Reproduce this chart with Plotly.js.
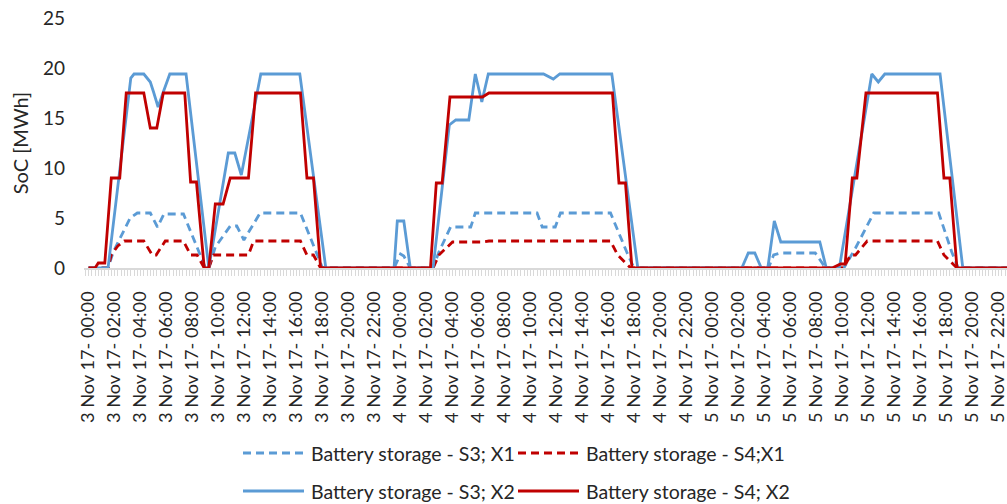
<!DOCTYPE html>
<html>
<head>
<meta charset="utf-8">
<script src="https://cdn.plot.ly/plotly-3.0.1.min.js"></script>
<style>html,body{margin:0;padding:0;background:#fff;overflow:hidden}#chart{width:1015px;height:504px}</style>
</head>
<body>
<div id="chart"></div>
<script>
// x values are hours since 3 Nov 17 00:00 (15-minute data, vertices)
const days = ['3 Nov 17', '4 Nov 17', '5 Nov 17'];
const tickHours = [0, 2, 4, 6, 8, 10, 12, 14, 16, 18, 20, 22];

const s3x1_t = [0, 1.5, 1.9, 3.2, 3.75, 4.75, 5.3, 5.8, 7.3, 8.6, 9, 9.25, 9.75, 10.9, 11.4, 11.95, 13.2, 16.3, 17.7, 18, 23.5, 24, 24.25, 24.75, 26.5, 26.95, 27.85, 29.4, 29.75, 34.5, 34.9, 35.9, 36.3, 40.15, 41.4, 41.95, 52.3, 52.7, 53.2, 55.9, 56.7, 58.1, 59, 60.4, 65.4, 66.4, 66.9, 71.75];
const s3x1_v = [0, 0, 1.6, 5, 5.5, 5.5, 4.1, 5.4, 5.4, 1.3, 0, 0, 2.1, 4.2, 4.2, 2.8, 5.5, 5.5, 1, 0, 0, 1.4, 1.2, 0, 0, 1.6, 4.1, 4.1, 5.5, 5.5, 4.1, 4.1, 5.5, 5.5, 1.6, 0, 0, 1.3, 1.5, 1.5, 0, 0, 2, 5.5, 5.5, 1.6, 0, 0];

const s4x1_t = [0, 1.5, 1.75, 2.25, 2.75, 4.25, 4.9, 5.2, 5.9, 7.3, 7.85, 8.35, 8.9, 9.25, 9.6, 12.3, 12.7, 16.3, 16.8, 17.3, 17.85, 26.5, 26.95, 28, 30.3, 30.8, 40.15, 40.7, 41.7, 58.1, 58.6, 59, 59.9, 65.3, 65.8, 66.8, 71.75];
const s4x1_v = [0, 0, 1.3, 2.2, 2.7, 2.7, 1.3, 1.3, 2.7, 2.7, 1.3, 1.3, 0, 0, 1.3, 1.3, 2.7, 2.7, 1.3, 1.3, 0, 0, 1.3, 2.6, 2.6, 2.7, 2.7, 1.3, 0, 0, 1.3, 1.3, 2.7, 2.7, 1.3, 0, 0];

const s3x2_t = [0, 1.5, 3.25, 3.5, 4.25, 4.75, 5, 5.35, 5.75, 6.25, 7.5, 9.25, 10.75, 11.25, 11.75, 13.25, 16.25, 18.25, 23.5, 23.75, 24.25, 24.75, 26.5, 27.75, 28.25, 29.25, 29.75, 30.25, 30.75, 35, 35.75, 36.25, 40.25, 42.25, 50.25, 50.75, 51.25, 51.75, 52.25, 52.75, 53.25, 56.25, 56.75, 57.75, 60.25, 60.75, 61.25, 65.5, 67.25, 71.75];
const s3x2_v = [0, 0, 19, 19.4, 19.4, 18.6, 17.6, 16.1, 17.6, 19.4, 19.4, 0, 11.5, 11.5, 9.3, 19.4, 19.4, 0, 0, 4.7, 4.7, 0, 0, 14.3, 14.8, 14.8, 19.4, 16.6, 19.4, 19.4, 18.9, 19.4, 19.4, 0, 0, 1.5, 1.5, 0, 0, 4.7, 2.6, 2.6, 0, 0, 19.4, 18.6, 19.4, 19.4, 0, 0];

const s4x2_t = [0, 0.5, 0.75, 1.25, 1.75, 2.4, 2.9, 4.25, 4.75, 5.25, 5.75, 7.4, 7.85, 8.3, 8.9, 9.25, 9.75, 10.35, 10.9, 12.3, 12.85, 16.3, 16.8, 17.3, 17.85, 26.3, 26.75, 27.2, 27.8, 30.3, 30.8, 40.3, 40.8, 41.3, 41.8, 57.2, 57.85, 58.2, 58.75, 59.1, 59.8, 65.3, 65.8, 66.25, 66.8, 71.75];
const s4x2_v = [0, 0, 0.5, 0.5, 9, 9, 17.5, 17.5, 14, 14, 17.5, 17.5, 8.6, 8.6, 0, 0, 6.4, 6.4, 9, 9, 17.5, 17.5, 9, 9, 0, 0, 8.5, 8.5, 17.1, 17.1, 17.5, 17.5, 8.5, 8.5, 0, 0, 0.4, 0.4, 9, 9, 17.5, 17.5, 9, 9, 0, 0];

const names = ['Battery storage - S3; X1', 'Battery storage - S4;X1', 'Battery storage - S3; X2', 'Battery storage - S4; X2'];

const tickVals = [], tickText = [];
days.forEach((d, i) => tickHours.forEach(h => {
  tickVals.push(i * 24 + h);
  tickText.push(d + '- ' + String(h).padStart(2, '0') + ':00');
}));

const BLUE = '#5B9BD5', RED = '#C00000';
const DASH = '8px,5px';
const FONT = 'Lato, "Open Sans", sans-serif';
const TXT = '#262626';

const styles = [
  {color: BLUE, width: 2.8, dash: DASH},
  {color: RED, width: 2.8, dash: DASH},
  {color: BLUE, width: 2.8},
  {color: RED, width: 2.8}
];
const series = [[s3x1_t, s3x1_v], [s4x1_t, s4x1_v], [s3x2_t, s3x2_v], [s4x2_t, s4x2_v]];

const traces = series.map((s, i) => ({
  type: 'scatter', mode: 'lines', x: s[0], y: s[1], name: names[i],
  line: styles[i], hoverinfo: 'skip', showlegend: false
}));

// legend drawn below the axis in two rows (pixel positions -> paper coordinates)
const PL = 84, PW = 923, PB = 268, PH = 250;
const px = v => (v - PL) / PW, py = v => (PB - v) / PH;
const legendPos = [[243, 453], [518, 453], [243, 491], [518, 491]];
const shapes = [], annotations = [];
legendPos.forEach((p, i) => {
  shapes.push({type: 'line', xref: 'paper', yref: 'paper',
    x0: px(p[0]), x1: px(p[0] + 61), y0: py(p[1]), y1: py(p[1]), line: styles[i]});
  annotations.push({xref: 'paper', yref: 'paper', x: px(p[0] + 66), y: py(p[1]),
    xanchor: 'left', yanchor: 'middle', showarrow: false, text: names[i],
    font: {family: FONT, size: 19.5, color: TXT}});
});

// the figure is 8px wider than the 1007px window, so the right edge is clipped like the reference
const layout = {
  width: 1015, height: 504,
  margin: {l: 84, r: 8, t: 18, b: 236},
  paper_bgcolor: '#fff', plot_bgcolor: '#fff',
  font: {family: FONT, size: 19, color: TXT},
  showlegend: false,
  shapes: shapes, annotations: annotations,
  xaxis: {
    range: [-0.35, 70.65],
    tickmode: 'array', tickvals: tickVals, ticktext: tickText,
    tickangle: -90, ticks: 'outside', ticklen: 6, tickcolor: '#d9d9d9', tickwidth: 1,
    ticklabelstandoff: 8,
    minor: {tickmode: 'linear', tick0: 0, dtick: 0.25, ticks: 'outside', ticklen: 6, tickcolor: '#d9d9d9', showgrid: false},
    showline: true, linecolor: '#d9d9d9', linewidth: 2,
    showgrid: false, zeroline: false,
    tickfont: {family: FONT, size: 18.2, color: TXT}
  },
  yaxis: {
    range: [0, 25], tickmode: 'linear', tick0: 0, dtick: 5,
    showgrid: false, zeroline: false, showline: false, ticks: '',
    ticklabelstandoff: 18,
    tickfont: {family: FONT, size: 19, color: TXT},
    title: {text: 'SoC [MWh]', standoff: 8, font: {family: FONT, size: 20, color: TXT}}
  }
};

Plotly.newPlot('chart', traces, layout, {staticPlot: true, displayModeBar: false});
</script>
</body>
</html>
